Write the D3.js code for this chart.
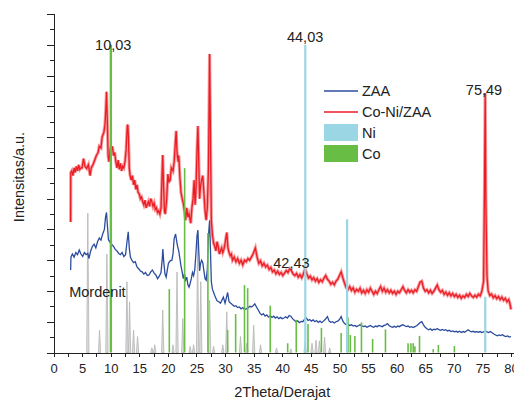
<!DOCTYPE html>
<html>
<head>
<meta charset="utf-8">
<script src="https://d3js.org/d3.v7.min.js"></script>
<style>
body { margin: 0; background: #fff; }
text { font-family: "Liberation Sans", Arial, sans-serif; fill: #222; }
.axis path, .axis line { stroke: #222; fill: none; shape-rendering: crispEdges; }
</style>
</head>
<body>
<div id="chart"></div>
<script>
// Co-Ni/ZAA pattern [2theta, intensity]
var coNiZaa = [[3.0,424],[3.02,584],[3.2,590],[3.4,575],[3.6,600],[3.8,585],[4.0,605],[4.2,590],[4.4,610],[4.6,595],[4.8,600],[5.0,600],[5.25,630],[5.5,605],[5.8,598],[6.1,610],[6.4,575],[6.6,600],[6.9,610],[7.2,625],[7.5,640],[7.8,650],[8.0,670],[8.3,665],[8.5,700],[8.8,715],[9.0,740],[9.15,790],[9.27,847],[9.4,760],[9.55,640],[9.7,620],[9.9,660],[10.1,655],[10.3,670],[10.5,640],[10.7,650],[10.9,620],[11.1,600],[11.3,625],[11.5,595],[11.7,615],[11.9,590],[12.1,605],[12.3,600],[12.5,620],[12.7,660],[12.9,736],[13.0,740],[13.1,700],[13.25,600],[13.4,575],[13.6,560],[13.8,575],[14.0,545],[14.2,560],[14.4,530],[14.6,545],[14.8,520],[15.0,515],[15.2,500],[15.4,505],[15.6,490],[15.8,480],[16.0,495],[16.2,470],[16.4,480],[16.6,490],[16.8,475],[17.0,500],[17.2,490],[17.4,475],[17.6,485],[17.8,465],[18.0,470],[18.2,455],[18.4,460],[18.6,450],[18.8,470],[18.95,560],[19.1,642],[19.25,540],[19.4,460],[19.55,450],[19.8,500],[20.0,580],[20.2,555],[20.4,560],[20.6,600],[20.9,590],[21.1,620],[21.3,680],[21.45,720],[21.6,650],[21.8,620],[21.9,640],[22.1,570],[22.3,520],[22.5,500],[22.7,485],[22.9,460],[23.1,430],[23.3,470],[23.5,440],[23.7,450],[24.0,420],[24.2,470],[24.4,500],[24.6,560],[24.75,480],[24.9,520],[25.1,660],[25.25,736],[25.4,620],[25.55,500],[25.7,540],[25.9,560],[26.1,575],[26.3,520],[26.5,460],[26.7,430],[26.9,470],[27.1,600],[27.3,970],[27.45,700],[27.6,430],[27.8,380],[28.0,355],[28.2,345],[28.4,330],[28.6,360],[28.8,345],[29.0,320],[29.2,330],[29.4,340],[29.6,325],[29.8,335],[30.0,355],[30.3,390],[30.5,340],[30.7,325],[30.9,315],[31.1,320],[31.3,300],[31.6,310],[31.9,295],[32.2,305],[32.5,290],[32.8,300],[33.1,285],[33.4,300],[33.7,295],[34.0,305],[34.3,300],[34.6,310],[34.9,320],[35.3,340],[35.6,310],[35.9,290],[36.2,298],[36.5,282],[36.8,290],[37.1,278],[37.4,284],[37.7,270],[38.0,276],[38.3,262],[38.6,268],[38.9,256],[39.2,264],[39.5,254],[39.8,260],[40.1,250],[40.4,258],[40.7,266],[41.0,260],[41.3,272],[41.6,266],[41.9,255],[42.2,250],[42.5,257],[42.8,245],[43.1,253],[43.4,243],[43.7,255],[44.0,272],[44.3,255],[44.6,242],[44.9,248],[45.2,236],[45.5,243],[45.8,232],[46.1,240],[46.4,228],[46.7,236],[47.0,230],[47.3,242],[47.6,250],[47.9,238],[48.2,232],[48.5,222],[48.8,228],[49.1,220],[49.4,232],[49.7,238],[50.0,250],[50.3,262],[50.6,242],[50.9,225],[51.2,210],[51.5,205],[51.8,214],[52.1,202],[52.4,210],[52.7,196],[53.0,205],[53.3,199],[53.6,209],[53.9,194],[54.2,202],[54.5,192],[54.8,204],[55.1,196],[55.4,209],[55.7,199],[56.0,189],[56.3,199],[56.6,192],[56.9,204],[57.2,214],[57.5,199],[57.8,209],[58.1,196],[58.4,204],[58.7,194],[59.0,202],[59.3,192],[59.6,199],[59.9,189],[60.2,199],[60.5,194],[60.8,204],[61.1,214],[61.4,202],[61.7,194],[62.0,204],[62.3,196],[62.6,202],[62.9,194],[63.2,204],[63.5,199],[63.8,214],[64.1,229],[64.4,232],[64.7,209],[65.0,199],[65.3,204],[65.6,194],[65.9,202],[66.2,192],[66.5,199],[66.8,209],[67.1,219],[67.4,204],[67.7,196],[68.0,202],[68.3,189],[68.6,196],[68.9,186],[69.2,194],[69.5,184],[69.8,192],[70.1,182],[70.4,189],[70.7,179],[71.0,186],[71.3,176],[71.6,184],[71.9,179],[72.2,189],[72.5,182],[72.8,192],[73.1,184],[73.4,179],[73.7,186],[74.0,180],[74.3,189],[74.6,184],[74.9,199],[75.2,230],[75.35,500],[75.49,843],[75.6,500],[75.7,366],[75.8,250],[76.0,200],[76.3,185],[76.6,190],[76.9,178],[77.2,185],[77.5,175],[77.8,182],[78.1,172],[78.4,180],[78.7,170],[79.0,176],[79.3,165],[79.6,172],[79.8,160],[80.0,140]];

// ZAA pattern [2theta, intensity]
var zaa = [[3.0,268],[3.05,310],[3.3,320],[3.6,310],[3.9,325],[4.2,318],[4.5,333],[4.8,320],[5.1,312],[5.4,325],[5.7,318],[6.0,322],[6.2,305],[6.5,330],[6.8,345],[7.1,352],[7.4,340],[7.7,360],[8.0,372],[8.3,365],[8.6,385],[8.9,400],[9.1,440],[9.27,455],[9.4,420],[9.6,368],[9.8,360],[10.0,365],[10.2,350],[10.5,345],[10.8,335],[11.1,330],[11.4,322],[11.7,318],[12.0,325],[12.3,312],[12.6,318],[12.85,360],[13.07,392],[13.25,340],[13.45,310],[13.7,300],[14.0,292],[14.3,295],[14.6,278],[14.9,272],[15.2,265],[15.5,262],[15.8,255],[16.1,260],[16.4,250],[16.7,252],[17.0,262],[17.3,268],[17.6,258],[17.9,252],[18.2,240],[18.5,248],[18.8,260],[19.0,300],[19.12,336],[19.3,290],[19.5,255],[19.7,245],[19.9,268],[20.1,290],[20.4,298],[20.7,300],[20.9,320],[21.1,370],[21.35,385],[21.55,360],[21.7,345],[21.9,330],[22.1,305],[22.3,280],[22.5,262],[22.7,240],[22.9,255],[23.1,235],[23.3,245],[23.5,220],[23.7,212],[23.9,225],[24.1,240],[24.3,260],[24.5,250],[24.7,268],[24.9,320],[25.1,380],[25.25,398],[25.4,330],[25.55,265],[25.7,288],[25.9,300],[26.1,292],[26.3,265],[26.5,240],[26.7,235],[26.9,270],[27.1,380],[27.3,430],[27.45,330],[27.6,230],[27.8,205],[28.0,195],[28.3,180],[28.6,168],[28.9,165],[29.2,160],[29.4,168],[29.7,180],[30.0,160],[30.2,175],[30.45,195],[30.7,165],[31.0,160],[31.3,155],[31.6,150],[31.9,152],[32.2,146],[32.5,148],[32.8,142],[33.1,146],[33.4,140],[33.7,142],[34.0,145],[34.3,150],[34.6,148],[34.9,152],[35.2,158],[35.5,148],[35.8,138],[36.1,128],[36.4,122],[36.7,126],[37.0,118],[37.3,122],[37.6,115],[37.9,120],[38.2,114],[38.5,118],[38.8,112],[39.1,116],[39.4,110],[39.7,114],[40.0,110],[40.3,112],[40.6,116],[40.9,112],[41.2,120],[41.5,118],[41.8,110],[42.1,105],[42.4,100],[42.7,103],[43.0,97],[43.3,101],[43.6,100],[43.9,108],[44.2,112],[44.5,104],[44.8,107],[45.1,102],[45.4,106],[45.7,100],[46.0,104],[46.3,98],[46.6,102],[46.9,97],[47.2,102],[47.5,107],[47.9,117],[48.2,102],[48.5,98],[48.8,100],[49.1,96],[49.4,100],[49.7,102],[50.0,107],[50.3,117],[50.6,102],[50.9,94],[51.2,90],[51.5,92],[51.8,88],[52.1,90],[52.4,86],[52.7,88],[53.0,84],[53.3,87],[53.6,90],[53.9,87],[54.2,84],[54.5,86],[54.8,82],[55.1,85],[55.4,88],[55.7,84],[56.0,82],[56.3,86],[56.6,84],[56.9,88],[57.2,86],[57.5,84],[57.8,88],[58.1,90],[58.4,94],[58.7,87],[59.0,84],[59.3,82],[59.6,85],[59.9,82],[60.2,86],[60.5,84],[60.8,88],[61.1,90],[61.4,87],[61.7,84],[62.0,86],[62.3,82],[62.6,84],[62.9,81],[63.2,84],[63.5,87],[63.8,92],[64.1,97],[64.4,100],[64.7,90],[65.0,82],[65.3,77],[65.6,74],[65.9,77],[66.2,72],[66.5,76],[66.8,74],[67.1,78],[67.4,74],[67.7,72],[68.0,75],[68.3,72],[68.6,74],[68.9,70],[69.2,72],[69.5,68],[69.8,70],[70.1,67],[70.4,69],[70.7,66],[71.0,69],[71.3,65],[71.6,68],[71.9,66],[72.2,70],[72.5,74],[72.8,70],[73.1,67],[73.4,69],[73.7,66],[74.0,68],[74.3,66],[74.6,68],[74.9,65],[75.2,67],[75.5,70],[75.8,67],[76.1,65],[76.4,68],[76.7,64],[77.0,60],[77.3,57],[77.6,54],[77.9,57],[78.2,55],[78.5,58],[78.8,54],[79.1,52],[79.4,54],[79.7,50],[80.0,52]];

// Mordenite reference peaks [2theta, intensity]
var mordenit = [[6.0,453],[8.05,73],[9.34,320],[12.84,230],[13.3,165],[14.0,73],[14.7,52],[17.2,15],[17.7,25],[19.1,138],[20.9,25],[21.6,262],[22.6,110],[23.9,20],[24.5,25],[25.2,360],[25.75,230],[27.3,170],[28.0,20],[29.6,25],[30.3,132],[32.7,52],[33.8,30],[35.0,89],[36.2,25],[39.0,15],[41.5,12],[44.0,35],[45.2,30],[45.9,40],[46.5,38],[47.4,50],[48.3,15]];

// Co reference sticks [2theta, intensity]
var coSticks = [[10.03,1000],[20.25,206],[22.93,599],[27.0,388],[30.45,73],[31.85,125],[33.4,219],[33.95,209],[37.9,152],[40.95,30],[42.45,106],[44.5,93],[46.85,80],[50.3,63],[51.5,114],[51.9,57],[52.7,54],[53.85,98],[55.8,44],[58.05,75],[62.0,30],[62.5,30],[62.9,30],[63.2,20],[64.0,54],[66.4,11],[67.3,24],[70.1,21]];

// Ni reference sticks [2theta, intensity]
var niSticks = [[44.03,1000],[51.34,433],[75.5,181]];

// peak labels [text, 2theta, intensity]
var peakLabels = [["10,03",10.45,983],["44,03",44.0,1009],["75,49",75.28,837],["42,43",41.6,275]];

var xTicks = d3.range(0, 80.1, 5);
var xMinorTicks = d3.range(0, 80.1, 2.5);
var yTicks = d3.range(0, 1101, 50);

var width = 514, height = 400;
var colors = {zaa: "#2c4c9e", coni: "#ec1c24", ni: "#9bd6e4", co: "#68bd45", mord: "#b4b4b4"};

var svg = d3.select("#chart").append("svg")
    .attr("width", width)
    .attr("height", height);

var x = d3.scaleLinear().domain([0, 80]).range([53.5, 511]);
var y = d3.scaleLinear().domain([0, 1100]).range([352.5, 14]);

// Mordenite peaks as narrow triangles
var mordArea = d3.area()
    .x(function(d) { return x(d[0]); })
    .y0(y(0))
    .y1(function(d) { return y(d[1]); });

svg.append("g").selectAll("path")
    .data(mordenit)
    .enter()
    .append("path")
      .attr("d", function(d) { return mordArea([[d[0] - 0.2, 0], [d[0], d[1]], [d[0] + 0.2, 0]]); })
      .attr("fill", "#dedede")
      .attr("stroke", colors.mord)
      .attr("stroke-width", 0.8);

var line = d3.line()
    .x(function(d) { return x(d[0]); })
    .y(function(d) { return y(d[1]); });

svg.append("path")
    .datum(zaa)
    .attr("d", line)
    .attr("fill", "none")
    .attr("stroke", colors.zaa)
    .attr("stroke-width", 1.3);

// soft band under the red trace, it is a noisy scan
svg.append("path")
    .datum(coNiZaa)
    .attr("d", line)
    .attr("fill", "none")
    .attr("stroke", "#f26d72")
    .attr("stroke-opacity", 0.7)
    .attr("stroke-width", 3.2);

svg.append("path")
    .datum(coNiZaa)
    .attr("d", line)
    .attr("fill", "none")
    .attr("stroke", colors.coni)
    .attr("stroke-width", 1.3);

// reference sticks
svg.append("g").selectAll("line")
    .data(coSticks)
    .enter()
    .append("line")
      .attr("x1", function(d) { return x(d[0]); })
      .attr("x2", function(d) { return x(d[0]); })
      .attr("y1", y(0))
      .attr("y2", function(d) { return y(d[1]); })
      .attr("stroke", colors.co)
      .attr("stroke-width", function(d, i) { return i == 0 ? 2.4 : 1.6; });

svg.append("g").selectAll("line")
    .data(niSticks)
    .enter()
    .append("line")
      .attr("x1", function(d) { return x(d[0]); })
      .attr("x2", function(d) { return x(d[0]); })
      .attr("y1", y(0))
      .attr("y2", function(d) { return y(d[1]); })
      .attr("stroke", colors.ni)
      .attr("stroke-width", 2.2);

// axes
var xAxis = d3.axisBottom(x)
    .tickValues(xMinorTicks)
    .tickSize(4)
    .tickPadding(7)
    .tickFormat(function(d) { return d % 5 == 0 ? d : ""; });

var gx = svg.append("g")
    .attr("class", "x axis")
    .attr("transform", "translate(0," + y(0) + ")")
    .call(xAxis);
gx.select(".domain").attr("d", "M" + x(0) + ",0.5H514");
gx.selectAll("text").style("font-size", "13px");

var yAxis = d3.axisLeft(y)
    .tickValues(yTicks)
    .tickSize(0)
    .tickFormat("");

var gy = svg.append("g")
    .attr("class", "y axis")
    .attr("transform", "translate(" + x(0) + ",0)")
    .call(yAxis);
gy.select(".domain").attr("d", "M0.5," + y(0) + "V" + y(1100));
gy.selectAll(".tick line")
    .attr("x2", function(d) { return d % 100 == 0 ? -7 : -4; });

svg.append("text")
    .attr("x", x(40))
    .attr("y", 397)
    .attr("text-anchor", "middle")
    .style("font-size", "14.5px")
    .text("2Theta/Derajat");

svg.append("text")
    .attr("transform", "translate(24,177) rotate(-90)")
    .attr("text-anchor", "middle")
    .style("font-size", "14.5px")
    .text("Intensitas/a.u.");

// peak labels
svg.append("g").selectAll("text")
    .data(peakLabels)
    .enter()
    .append("text")
      .attr("x", function(d) { return x(d[1]); })
      .attr("y", function(d) { return y(d[2]); })
      .attr("text-anchor", "middle")
      .style("font-size", "14.5px")
      .text(function(d) { return d[0]; });

svg.append("text")
    .attr("x", x(2.75))
    .attr("y", y(180))
    .style("font-size", "14.5px")
    .text("Mordenit");

// legend
var legendItems = [["ZAA", "line", colors.zaa], ["Co-Ni/ZAA", "line", colors.coni], ["Ni", "rect", colors.ni], ["Co", "rect", colors.co]];

var legend = svg.selectAll(".legend")
    .data(legendItems)
    .enter()
    .append("g")
      .attr("class", "legend")
      .attr("transform", function(d, i) { return "translate(324," + (91 + i * 21) + ")"; });

legend.filter(function(d) { return d[1] == "line"; })
  .append("line")
    .attr("x1", 0)
    .attr("x2", 34)
    .attr("stroke", function(d) { return d[2]; })
    .attr("stroke-width", 1.4);

legend.filter(function(d) { return d[1] == "rect"; })
  .append("rect")
    .attr("x", 0)
    .attr("y", -9)
    .attr("width", 34)
    .attr("height", 17)
    .attr("fill", function(d) { return d[2]; });

legend.append("text")
    .attr("x", 38)
    .attr("y", 0)
    .attr("dy", ".35em")
    .style("font-size", "14.5px")
    .text(function(d) { return d[0]; });
</script>
</body>
</html>
